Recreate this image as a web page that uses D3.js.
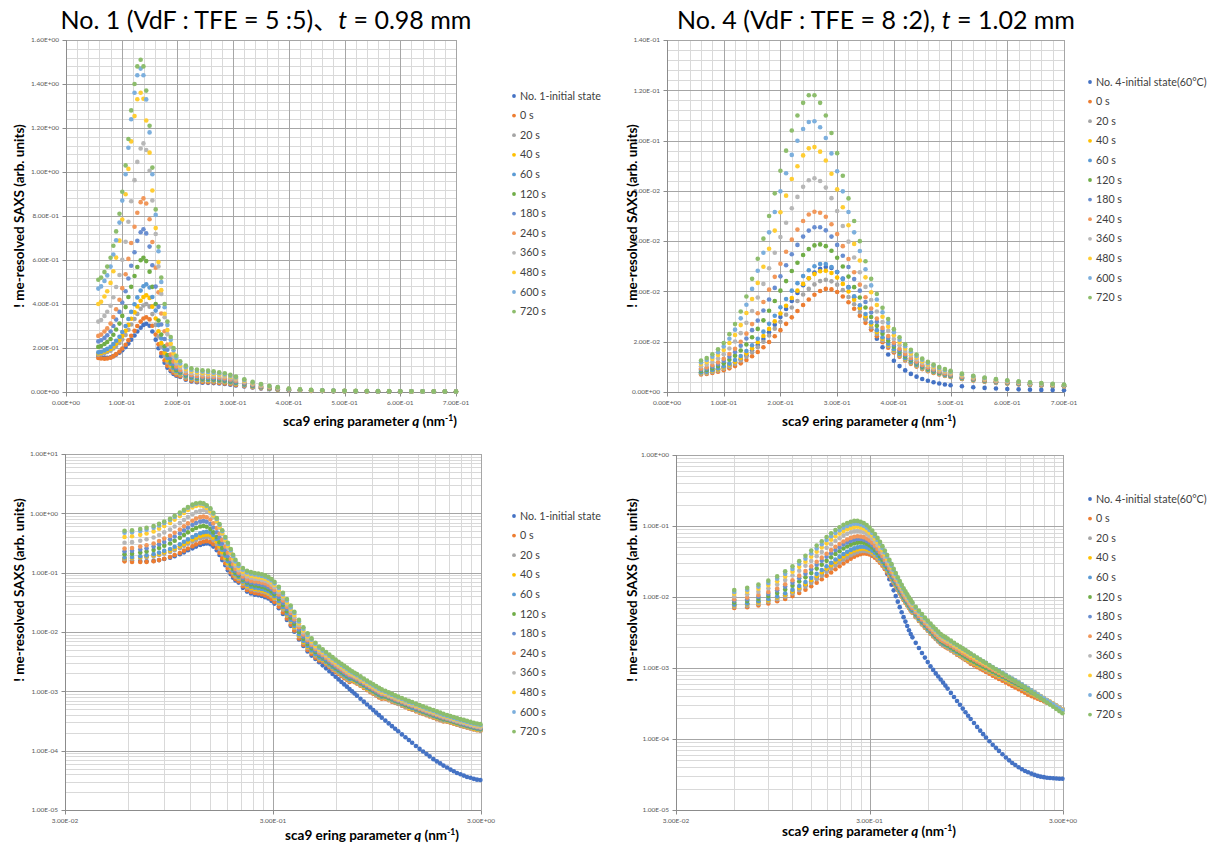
<!DOCTYPE html>
<html>
<head>
<meta charset="utf-8">
<script src="https://cdn.jsdelivr.net/npm/d3@7"></script>
<style>
  body { margin: 0; background: #fff; }
  svg { font-family: Lato, "Noto Sans CJK JP", sans-serif; }
</style>
</head>
<body>
<svg id="chart" width="1213" height="851"></svg>
<script>
// ---- data: No. 1 (q in nm^-1, intensity in arb. units)
var qNo1 = [0.058, 0.063, 0.069, 0.074, 0.080, 0.085, 0.090, 0.096, 0.101, 0.107, 0.112, 0.117, 0.123, 0.128, 0.134, 0.139, 0.144, 0.150, 0.155, 0.161, 0.166, 0.171, 0.177, 0.182, 0.188, 0.193, 0.198,
  0.205, 0.215, 0.225, 0.235, 0.245, 0.255, 0.265, 0.275, 0.285, 0.295, 0.305, 0.32, 0.335, 0.35, 0.365, 0.38, 0.40, 0.42, 0.44, 0.46, 0.48, 0.50,
  0.52, 0.54, 0.56, 0.58, 0.60, 0.62, 0.64, 0.66, 0.68, 0.70, 0.72, 0.74, 0.76, 0.79, 0.82, 0.85, 0.88, 0.91, 0.94, 0.97, 1.00,
  1.04, 1.08, 1.12, 1.16, 1.20, 1.25, 1.30, 1.35, 1.40, 1.46, 1.52, 1.58, 1.64, 1.70, 1.77, 1.84, 1.91, 1.98,
  2.06, 2.14, 2.22, 2.30, 2.39, 2.48, 2.57, 2.67, 2.77, 2.87, 2.98];

var n1Init = [0.165, 0.16, 0.157, 0.156, 0.158, 0.163, 0.17, 0.179, 0.19, 0.204, 0.22, 0.238, 0.257, 0.275, 0.292, 0.305, 0.31, 0.301, 0.275, 0.238, 0.199, 0.163, 0.133, 0.11, 0.094, 0.082, 0.074,
  0.068, 0.0555, 0.048, 0.0445, 0.0425, 0.0417, 0.0404, 0.0387, 0.0366, 0.0335, 0.0301, 0.0252, 0.0202, 0.016, 0.0127, 0.0101, 0.0075, 0.0058, 0.0047, 0.004, 0.0035, 0.0031,
  274e-5, 244e-5, 218e-5, 196e-5, 176e-5, 159e-5, 144e-5, 131e-5, 120e-5, 109e-5, 100e-5, 92e-5, 84.6e-5, 75e-5, 67e-5, 60e-5, 53.7e-5, 48.3e-5, 43.7e-5, 39.7e-5, 36e-5,
  32.1e-5, 28.8e-5, 25.9e-5, 23.4e-5, 21.2e-5, 18.8e-5, 16.8e-5, 15.1e-5, 13.6e-5, 12e-5, 10.7e-5, 9.7e-5, 8.8e-5, 8e-5, 7.2e-5, 6.6e-5, 6.1e-5, 5.6e-5,
  5.2e-5, 4.8e-5, 4.5e-5, 4.2e-5, 4e-5, 3.8e-5, 3.6e-5, 3.5e-5, 3.35e-5, 3.25e-5, 3.2e-5];
var n1S0 = [0.155, 0.152, 0.151, 0.152, 0.156, 0.163, 0.172, 0.184, 0.198, 0.215, 0.235, 0.256, 0.278, 0.30, 0.32, 0.334, 0.34, 0.33, 0.301, 0.261, 0.217, 0.177, 0.144, 0.119, 0.101, 0.088, 0.078,
  0.072, 0.059, 0.051, 0.0475, 0.0455, 0.0446, 0.0432, 0.0414, 0.0391, 0.0359, 0.0322, 0.0268, 0.0214, 0.0169, 0.0133, 0.0106, 0.0078, 0.0061, 0.005, 0.0043, 0.0037, 0.0033,
  317e-5, 285e-5, 257e-5, 234e-5, 213e-5, 196e-5, 181e-5, 167e-5, 156e-5, 144e-5, 150e-5, 142e-5, 135e-5, 124e-5, 114e-5, 105e-5, 97e-5, 91e-5, 85e-5, 79e-5, 75e-5,
  75e-5, 71e-5, 67e-5, 64e-5, 61e-5, 57e-5, 54e-5, 51e-5, 49e-5, 46e-5, 43.7e-5, 41.4e-5, 39.6e-5, 37.7e-5, 35.9e-5, 34e-5, 32.6e-5, 31.1e-5,
  30.8e-5, 29.6e-5, 28.5e-5, 27.3e-5, 26.2e-5, 25.4e-5, 24.5e-5, 23.6e-5, 22.8e-5, 22.1e-5, 21.6e-5];
var n1S20 = [0.17, 0.172, 0.177, 0.182, 0.188, 0.198, 0.209, 0.223, 0.239, 0.259, 0.283, 0.307, 0.332, 0.355, 0.378, 0.393, 0.40, 0.388, 0.354, 0.305, 0.252, 0.204, 0.165, 0.134, 0.113, 0.097, 0.085,
  0.078, 0.0645, 0.0565, 0.0525, 0.0505, 0.0495, 0.048, 0.0464, 0.0438, 0.0402, 0.036, 0.030, 0.024, 0.0189, 0.0148, 0.0117, 0.0085, 0.0066, 0.0054, 0.0046, 0.004, 0.0035,
  330e-5, 296e-5, 268e-5, 243e-5, 222e-5, 204e-5, 188e-5, 174e-5, 162e-5, 150e-5, 155e-5, 146e-5, 138e-5, 127e-5, 117e-5, 108e-5, 100e-5, 94e-5, 87e-5, 82e-5, 77e-5,
  77e-5, 72e-5, 69e-5, 65e-5, 62e-5, 58e-5, 55e-5, 52e-5, 50e-5, 47e-5, 44.5e-5, 42.3e-5, 40.4e-5, 38.5e-5, 36.6e-5, 34.7e-5, 33.2e-5, 31.7e-5,
  31.2e-5, 30e-5, 28.9e-5, 27.7e-5, 26.5e-5, 25.7e-5, 24.8e-5, 23.9e-5, 23.1e-5, 22.4e-5, 21.8e-5];
var n1S40 = [0.175, 0.177, 0.183, 0.189, 0.196, 0.207, 0.22, 0.236, 0.255, 0.278, 0.305, 0.333, 0.362, 0.389, 0.415, 0.432, 0.44, 0.427, 0.388, 0.334, 0.276, 0.222, 0.178, 0.144, 0.121, 0.103, 0.09,
  0.082, 0.068, 0.0595, 0.055, 0.053, 0.0519, 0.0503, 0.0486, 0.0459, 0.0421, 0.0378, 0.0315, 0.0251, 0.0197, 0.0154, 0.0121, 0.0088, 0.0068, 0.0056, 0.0047, 0.0041, 0.0036,
  340e-5, 305e-5, 276e-5, 251e-5, 229e-5, 210e-5, 194e-5, 180e-5, 167e-5, 155e-5, 159e-5, 150e-5, 142e-5, 131e-5, 120e-5, 111e-5, 103e-5, 96e-5, 90e-5, 84e-5, 79e-5,
  79e-5, 74e-5, 71e-5, 67e-5, 64e-5, 60e-5, 57e-5, 53e-5, 51e-5, 48e-5, 46e-5, 43.4e-5, 41.5e-5, 39.5e-5, 37.6e-5, 35.7e-5, 34.1e-5, 32.6e-5,
  31.8e-5, 30.6e-5, 29.4e-5, 28.2e-5, 27e-5, 26.2e-5, 25.3e-5, 24.3e-5, 23.5e-5, 22.8e-5, 22.3e-5];
var n1S60 = [0.18, 0.183, 0.189, 0.196, 0.205, 0.218, 0.233, 0.251, 0.273, 0.30, 0.332, 0.364, 0.399, 0.43, 0.461, 0.481, 0.49, 0.475, 0.432, 0.37, 0.304, 0.243, 0.194, 0.155, 0.129, 0.108, 0.094,
  0.085, 0.071, 0.0625, 0.058, 0.056, 0.0548, 0.053, 0.0513, 0.0485, 0.0445, 0.040, 0.033, 0.0262, 0.0206, 0.016, 0.0127, 0.0092, 0.0071, 0.0058, 0.0049, 0.0042, 0.0037,
  350e-5, 314e-5, 284e-5, 258e-5, 236e-5, 216e-5, 200e-5, 185e-5, 172e-5, 160e-5, 164e-5, 155e-5, 146e-5, 134e-5, 124e-5, 114e-5, 106e-5, 99e-5, 92e-5, 86e-5, 81e-5,
  81e-5, 76e-5, 72e-5, 68e-5, 65e-5, 61e-5, 58e-5, 55e-5, 52e-5, 49e-5, 47e-5, 44.5e-5, 42.5e-5, 40.5e-5, 38.6e-5, 36.6e-5, 35e-5, 33.4e-5,
  32.6e-5, 31.4e-5, 30.2e-5, 28.9e-5, 27.7e-5, 26.9e-5, 25.9e-5, 24.9e-5, 24.1e-5, 23.4e-5, 22.8e-5];
var n1S120 = [0.205, 0.209, 0.218, 0.227, 0.241, 0.26, 0.284, 0.311, 0.346, 0.386, 0.432, 0.478, 0.527, 0.568, 0.599, 0.61, 0.595, 0.547, 0.478, 0.40, 0.325, 0.261, 0.208, 0.168, 0.138, 0.116, 0.10,
  0.09, 0.076, 0.068, 0.0635, 0.061, 0.0597, 0.058, 0.056, 0.0527, 0.0484, 0.0434, 0.036, 0.0285, 0.0224, 0.0175, 0.0138, 0.010, 0.0077, 0.0063, 0.0053, 0.0046, 0.0040,
  370e-5, 333e-5, 301e-5, 273e-5, 249e-5, 229e-5, 212e-5, 196e-5, 182e-5, 169e-5, 169e-5, 160e-5, 151e-5, 139e-5, 128e-5, 118e-5, 109e-5, 102e-5, 95e-5, 89e-5, 84e-5,
  83e-5, 78e-5, 74e-5, 70e-5, 67e-5, 63e-5, 59e-5, 56e-5, 54e-5, 51e-5, 48e-5, 45.6e-5, 43.6e-5, 41.6e-5, 39.5e-5, 37.5e-5, 35.9e-5, 34.2e-5,
  33.4e-5, 32.1e-5, 30.9e-5, 29.6e-5, 28.4e-5, 27.6e-5, 26.6e-5, 25.6e-5, 24.7e-5, 24e-5, 23.4e-5];
var n1S180 = [0.23, 0.235, 0.246, 0.258, 0.275, 0.30, 0.329, 0.364, 0.407, 0.458, 0.516, 0.574, 0.635, 0.687, 0.726, 0.74, 0.721, 0.661, 0.576, 0.479, 0.387, 0.307, 0.241, 0.192, 0.155, 0.128, 0.108,
  0.095, 0.081, 0.072, 0.068, 0.066, 0.0645, 0.0625, 0.061, 0.057, 0.053, 0.047, 0.039, 0.031, 0.0245, 0.0192, 0.0151, 0.011, 0.0084, 0.0068, 0.0057, 0.0049, 0.0042,
  388e-5, 349e-5, 315e-5, 287e-5, 261e-5, 240e-5, 222e-5, 205e-5, 191e-5, 177e-5, 175e-5, 166e-5, 157e-5, 144e-5, 133e-5, 122e-5, 114e-5, 106e-5, 99e-5, 93e-5, 87e-5,
  86e-5, 81e-5, 76e-5, 72e-5, 69e-5, 65e-5, 61e-5, 58e-5, 55e-5, 52e-5, 49.6e-5, 47e-5, 45e-5, 42.8e-5, 40.7e-5, 38.6e-5, 37e-5, 35.3e-5,
  34.2e-5, 32.9e-5, 31.6e-5, 30.4e-5, 29.1e-5, 28.2e-5, 27.2e-5, 26.2e-5, 25.3e-5, 24.5e-5, 23.9e-5];
var n1S240 = [0.255, 0.261, 0.275, 0.289, 0.311, 0.341, 0.376, 0.419, 0.472, 0.535, 0.605, 0.677, 0.751, 0.815, 0.863, 0.88, 0.857, 0.785, 0.682, 0.565, 0.453, 0.357, 0.276, 0.216, 0.17, 0.139, 0.116,
  0.10, 0.086, 0.077, 0.073, 0.071, 0.070, 0.068, 0.066, 0.062, 0.057, 0.051, 0.043, 0.034, 0.0267, 0.0209, 0.0164, 0.012, 0.0091, 0.0073, 0.0061, 0.0052, 0.0045,
  411e-5, 369e-5, 334e-5, 303e-5, 277e-5, 254e-5, 235e-5, 217e-5, 202e-5, 188e-5, 183e-5, 173e-5, 164e-5, 150e-5, 139e-5, 128e-5, 118e-5, 111e-5, 103e-5, 97e-5, 91e-5,
  88e-5, 83e-5, 79e-5, 74e-5, 71e-5, 67e-5, 63e-5, 60e-5, 57e-5, 54e-5, 51e-5, 48.4e-5, 46.3e-5, 44.1e-5, 42e-5, 39.8e-5, 38.1e-5, 36.3e-5,
  35e-5, 33.7e-5, 32.4e-5, 31.1e-5, 29.8e-5, 28.9e-5, 27.8e-5, 26.8e-5, 25.9e-5, 25.1e-5, 24.5e-5];
var n1S360 = [0.32, 0.327, 0.346, 0.365, 0.392, 0.431, 0.477, 0.532, 0.601, 0.683, 0.774, 0.867, 0.963, 1.046, 1.107, 1.13, 1.10, 1.006, 0.871, 0.718, 0.571, 0.446, 0.34, 0.263, 0.205, 0.161, 0.13,
  0.11, 0.095, 0.086, 0.082, 0.079, 0.078, 0.075, 0.073, 0.069, 0.063, 0.057, 0.047, 0.037, 0.029, 0.0227, 0.0178, 0.013, 0.0098, 0.0078, 0.0065, 0.0055, 0.0048,
  434e-5, 390e-5, 353e-5, 320e-5, 292e-5, 269e-5, 248e-5, 230e-5, 213e-5, 198e-5, 191e-5, 180e-5, 171e-5, 157e-5, 144e-5, 133e-5, 123e-5, 116e-5, 108e-5, 101e-5, 94.5e-5,
  91e-5, 85e-5, 81e-5, 77e-5, 73e-5, 69e-5, 65e-5, 61e-5, 59e-5, 55e-5, 53e-5, 50e-5, 47.6e-5, 45.4e-5, 43.2e-5, 41e-5, 39.2e-5, 37.4e-5,
  35.6e-5, 34.3e-5, 32.9e-5, 31.6e-5, 30.3e-5, 29.4e-5, 28.3e-5, 27.2e-5, 26.3e-5, 25.5e-5, 24.9e-5];
var n1S480 = [0.40, 0.41, 0.434, 0.458, 0.496, 0.549, 0.611, 0.688, 0.784, 0.899, 1.014, 1.139, 1.254, 1.331, 1.36, 1.333, 1.234, 1.088, 0.916, 0.745, 0.591, 0.463, 0.356, 0.282, 0.219, 0.175, 0.142,
  0.12, 0.104, 0.094, 0.089, 0.086, 0.084, 0.082, 0.079, 0.075, 0.069, 0.062, 0.051, 0.040, 0.0315, 0.0245, 0.0193, 0.014, 0.0106, 0.0084, 0.0069, 0.0058, 0.0051,
  457e-5, 411e-5, 371e-5, 337e-5, 308e-5, 283e-5, 261e-5, 242e-5, 225e-5, 209e-5, 198e-5, 187e-5, 177e-5, 163e-5, 150e-5, 138e-5, 128e-5, 120e-5, 112e-5, 105e-5, 98e-5,
  94e-5, 89e-5, 84e-5, 80e-5, 76e-5, 71e-5, 68e-5, 64e-5, 61e-5, 57e-5, 55e-5, 52e-5, 49.5e-5, 47e-5, 45e-5, 42.5e-5, 40.7e-5, 38.9e-5,
  37.2e-5, 35.8e-5, 34.4e-5, 33e-5, 31.6e-5, 30.7e-5, 29.6e-5, 28.5e-5, 27.5e-5, 26.7e-5, 26e-5];
var n1S600 = [0.47, 0.48, 0.505, 0.53, 0.57, 0.625, 0.69, 0.77, 0.87, 0.99, 1.11, 1.24, 1.36, 1.44, 1.47, 1.44, 1.33, 1.18, 0.99, 0.805, 0.64, 0.50, 0.385, 0.305, 0.237, 0.19, 0.154,
  0.13, 0.112, 0.101, 0.096, 0.093, 0.091, 0.088, 0.085, 0.080, 0.074, 0.066, 0.055, 0.043, 0.034, 0.026, 0.021, 0.015, 0.0113, 0.0089, 0.0074, 0.0063, 0.0054,
  485e-5, 436e-5, 394e-5, 358e-5, 327e-5, 300e-5, 277e-5, 257e-5, 238e-5, 221e-5, 208e-5, 197e-5, 186e-5, 171e-5, 158e-5, 145e-5, 135e-5, 126e-5, 117e-5, 110e-5, 103e-5,
  98e-5, 92e-5, 87e-5, 83e-5, 79e-5, 74e-5, 70e-5, 66e-5, 63e-5, 60e-5, 57e-5, 54e-5, 51e-5, 49e-5, 46.6e-5, 44e-5, 42e-5, 40e-5,
  38.4e-5, 37e-5, 35.5e-5, 34e-5, 32.6e-5, 31.7e-5, 30.5e-5, 29.4e-5, 28.4e-5, 27.6e-5, 26.9e-5];
var n1S720 = [0.51, 0.52, 0.545, 0.57, 0.61, 0.665, 0.73, 0.81, 0.91, 1.03, 1.15, 1.28, 1.40, 1.48, 1.51, 1.48, 1.37, 1.21, 1.02, 0.83, 0.66, 0.52, 0.40, 0.32, 0.25, 0.20, 0.165,
  0.14, 0.12, 0.108, 0.102, 0.099, 0.097, 0.094, 0.090, 0.085, 0.078, 0.070, 0.058, 0.046, 0.036, 0.028, 0.022, 0.016, 0.012, 0.0095, 0.0078, 0.0066, 0.0057,
  511e-5, 459e-5, 415e-5, 377e-5, 344e-5, 316e-5, 292e-5, 270e-5, 251e-5, 233e-5, 218e-5, 206e-5, 195e-5, 179e-5, 165e-5, 152e-5, 141e-5, 132e-5, 123e-5, 115e-5, 108e-5,
  102e-5, 96e-5, 91e-5, 86e-5, 82e-5, 77e-5, 73e-5, 69e-5, 66e-5, 62e-5, 59e-5, 56e-5, 53.5e-5, 51e-5, 48.5e-5, 46e-5, 44e-5, 42e-5,
  40e-5, 38.5e-5, 37e-5, 35.5e-5, 34e-5, 33e-5, 31.8e-5, 30.6e-5, 29.6e-5, 28.7e-5, 28e-5];

// ---- data: No. 4
var qNo4 = [0.06, 0.07, 0.08, 0.09, 0.10, 0.11, 0.12, 0.13, 0.14, 0.15, 0.16, 0.17, 0.18, 0.19, 0.20, 0.21, 0.22, 0.23, 0.24, 0.25, 0.26, 0.27, 0.28, 0.29, 0.30,
  0.31, 0.32, 0.33, 0.34, 0.35, 0.36, 0.37, 0.38, 0.39, 0.40, 0.41, 0.42, 0.43, 0.44, 0.45, 0.46, 0.47, 0.48, 0.49, 0.50,
  0.52, 0.54, 0.56, 0.58, 0.60, 0.62, 0.64, 0.66, 0.68, 0.70, 0.72, 0.74, 0.76, 0.79, 0.82, 0.85, 0.88, 0.91, 0.94, 0.97, 1.00,
  1.04, 1.08, 1.12, 1.16, 1.20, 1.25, 1.30, 1.35, 1.40, 1.46, 1.52, 1.58, 1.64, 1.70, 1.77, 1.84, 1.91, 1.98,
  2.06, 2.14, 2.22, 2.30, 2.39, 2.48, 2.57, 2.67, 2.77, 2.87, 2.98];

var n4Init = [0.0078, 0.008, 0.0085, 0.009, 0.0097, 0.0106, 0.0117, 0.013, 0.0146, 0.0165, 0.0187, 0.0211, 0.0238, 0.0267, 0.0298, 0.033, 0.0362, 0.0394, 0.0425, 0.0452, 0.0475, 0.049, 0.0497, 0.0493, 0.0477,
  0.0451, 0.0417, 0.0377, 0.0334, 0.0291, 0.025, 0.0212, 0.0178, 0.0149, 0.0124, 0.0103, 0.0086, 0.0072, 0.0061, 0.0052, 0.0045, 0.0039, 0.0034, 0.003, 0.0027,
  226e-5, 191e-5, 163e-5, 140e-5, 121e-5, 106e-5, 94e-5, 84e-5, 76e-5, 69e-5, 62.3e-5, 56.5e-5, 51.3e-5, 44.6e-5, 39.1e-5, 34.3e-5, 30.3e-5, 26.8e-5, 23.8e-5, 21.3e-5, 19.1e-5,
  16.8e-5, 14.8e-5, 13.1e-5, 11.7e-5, 10.5e-5, 9.3e-5, 8.3e-5, 7.5e-5, 6.8e-5, 6.1e-5, 5.5e-5, 5e-5, 4.6e-5, 4.3e-5, 4e-5, 3.75e-5, 3.55e-5, 3.4e-5,
  3.25e-5, 3.12e-5, 3.02e-5, 2.95e-5, 2.9e-5, 2.85e-5, 2.82e-5, 2.8e-5, 2.78e-5, 2.76e-5, 2.75e-5];
var n4S0 = [0.007, 0.0072, 0.0076, 0.0081, 0.0087, 0.0094, 0.0103, 0.0114, 0.0127, 0.0142, 0.0159, 0.0178, 0.0199, 0.0222, 0.0246, 0.0271, 0.0297, 0.0322, 0.0346, 0.0368, 0.0387, 0.0402, 0.041, 0.0408, 0.0398,
  0.038, 0.0357, 0.0331, 0.0303, 0.0275, 0.0248, 0.0222, 0.0198, 0.0176, 0.0157, 0.014, 0.0125, 0.0112, 0.0101, 0.0091, 0.0083, 0.0076, 0.007, 0.0064, 0.006,
  518e-5, 459e-5, 411e-5, 369e-5, 334e-5, 304e-5, 278e-5, 256e-5, 237e-5, 219e-5, 207e-5, 197e-5, 189e-5, 176e-5, 165e-5, 154e-5, 146e-5, 137e-5, 130e-5, 123e-5, 115e-5,
  109e-5, 103e-5, 98e-5, 93e-5, 88e-5, 83e-5, 78e-5, 74e-5, 70e-5, 66e-5, 62.6e-5, 59.2e-5, 56e-5, 53.2e-5, 50.1e-5, 47.3e-5, 44.8e-5, 42.1e-5,
  40.2e-5, 38.5e-5, 37e-5, 35.4e-5, 33.9e-5, 32.4e-5, 31.1e-5, 29.6e-5, 28.2e-5, 27e-5, 25.8e-5];
var n4S20 = [0.0073, 0.0075, 0.008, 0.0086, 0.0093, 0.0101, 0.0112, 0.0125, 0.014, 0.0158, 0.0178, 0.02, 0.0225, 0.0252, 0.0279, 0.0307, 0.0336, 0.0362, 0.0388, 0.041, 0.0428, 0.0441, 0.0446, 0.044, 0.0427,
  0.0405, 0.0378, 0.0349, 0.0318, 0.0288, 0.0258, 0.0231, 0.0205, 0.0182, 0.0162, 0.0144, 0.0128, 0.0115, 0.0103, 0.0093, 0.0085, 0.0078, 0.0072, 0.0065, 0.0061,
  529e-5, 468e-5, 418e-5, 374e-5, 339e-5, 308e-5, 282e-5, 259e-5, 238e-5, 221e-5, 211e-5, 202e-5, 193e-5, 180e-5, 168e-5, 158e-5, 149e-5, 140e-5, 133e-5, 126e-5, 120e-5,
  114e-5, 108e-5, 103e-5, 98e-5, 93e-5, 88e-5, 83e-5, 79e-5, 75e-5, 71e-5, 67e-5, 63.4e-5, 60.2e-5, 57.3e-5, 54.1e-5, 51.1e-5, 48.5e-5, 45.6e-5,
  43.1e-5, 40.9e-5, 38.9e-5, 37e-5, 35e-5, 33.2e-5, 31.6e-5, 30e-5, 28.4e-5, 27e-5, 25.5e-5];
var n4S40 = [0.0076, 0.0079, 0.0084, 0.009, 0.0098, 0.0108, 0.012, 0.0135, 0.0153, 0.0174, 0.0198, 0.0223, 0.0251, 0.0281, 0.0312, 0.0343, 0.0374, 0.0403, 0.043, 0.0452, 0.0469, 0.048, 0.0482, 0.0473, 0.0455,
  0.043, 0.04, 0.0367, 0.0334, 0.03, 0.0269, 0.0239, 0.0212, 0.0188, 0.0167, 0.0148, 0.0132, 0.0118, 0.0106, 0.0095, 0.0087, 0.0079, 0.0073, 0.0067, 0.0062,
  540e-5, 479e-5, 428e-5, 385e-5, 348e-5, 317e-5, 290e-5, 267e-5, 246e-5, 228e-5, 218e-5, 208e-5, 199e-5, 186e-5, 174e-5, 163e-5, 154e-5, 145e-5, 137e-5, 129e-5, 123e-5,
  117e-5, 110e-5, 105e-5, 100e-5, 96e-5, 90e-5, 85e-5, 81e-5, 77e-5, 73e-5, 68.5e-5, 64.9e-5, 61.5e-5, 58.6e-5, 55.3e-5, 52.3e-5, 49.6e-5, 46.6e-5,
  43.9e-5, 41.7e-5, 39.6e-5, 37.6e-5, 35.6e-5, 33.7e-5, 32.1e-5, 30.3e-5, 28.7e-5, 27.2e-5, 25.8e-5];
var n4S60 = [0.0078, 0.0081, 0.0087, 0.0094, 0.0102, 0.0113, 0.0127, 0.0143, 0.0163, 0.0186, 0.0212, 0.024, 0.0271, 0.0303, 0.0337, 0.037, 0.0403, 0.0433, 0.0461, 0.0484, 0.05, 0.0509, 0.0509, 0.0497, 0.0477,
  0.0449, 0.0416, 0.0381, 0.0345, 0.031, 0.0277, 0.0246, 0.0218, 0.0192, 0.017, 0.0151, 0.0134, 0.012, 0.0108, 0.0097, 0.0088, 0.0081, 0.0074, 0.0068, 0.0063,
  548e-5, 485e-5, 434e-5, 390e-5, 353e-5, 321e-5, 294e-5, 270e-5, 250e-5, 231e-5, 220e-5, 211e-5, 202e-5, 190e-5, 178e-5, 167e-5, 159e-5, 150e-5, 142e-5, 135e-5, 128e-5,
  121e-5, 115e-5, 109e-5, 104e-5, 99e-5, 93e-5, 88e-5, 84e-5, 80e-5, 75e-5, 71e-5, 67.1e-5, 63.6e-5, 60.6e-5, 57.1e-5, 54e-5, 51.2e-5, 48.1e-5,
  45.3e-5, 42.9e-5, 40.7e-5, 38.6e-5, 36.5e-5, 34.5e-5, 32.8e-5, 31e-5, 29.2e-5, 27.8e-5, 26.2e-5];
var n4S120 = [0.0084, 0.0088, 0.0094, 0.0103, 0.0114, 0.0128, 0.0144, 0.0165, 0.0189, 0.0218, 0.0251, 0.0285, 0.0323, 0.0362, 0.0403, 0.0441, 0.0481, 0.0514, 0.0545, 0.0569, 0.0583, 0.0587, 0.058, 0.0562, 0.0534,
  0.0499, 0.0459, 0.0417, 0.0376, 0.0336, 0.0298, 0.0263, 0.0232, 0.0204, 0.018, 0.0159, 0.0141, 0.0126, 0.0113, 0.0101, 0.0092, 0.0084, 0.0077, 0.0071, 0.0066,
  573e-5, 508e-5, 453e-5, 407e-5, 368e-5, 335e-5, 306e-5, 281e-5, 259e-5, 240e-5, 229e-5, 219e-5, 209e-5, 196e-5, 184e-5, 173e-5, 163e-5, 154e-5, 146e-5, 138e-5, 131e-5,
  124e-5, 117e-5, 112e-5, 106e-5, 101e-5, 95e-5, 90e-5, 86e-5, 81e-5, 77e-5, 72.5e-5, 68.6e-5, 65e-5, 61.8e-5, 58.3e-5, 55.1e-5, 52.2e-5, 49.1e-5,
  46.2e-5, 43.6e-5, 41.3e-5, 39e-5, 36.9e-5, 34.8e-5, 33e-5, 31.1e-5, 29.3e-5, 27.8e-5, 26.2e-5];
var n4S180 = [0.0089, 0.0093, 0.0101, 0.0111, 0.0124, 0.014, 0.0159, 0.0184, 0.0213, 0.0246, 0.0284, 0.0324, 0.0368, 0.0414, 0.046, 0.0504, 0.0548, 0.0585, 0.0618, 0.0642, 0.0655, 0.0655, 0.0643, 0.0618, 0.0585,
  0.0542, 0.0497, 0.0449, 0.0403, 0.0358, 0.0316, 0.0279, 0.0244, 0.0215, 0.0188, 0.0166, 0.0147, 0.0131, 0.0117, 0.0105, 0.0096, 0.0087, 0.008, 0.0073, 0.0068,
  591e-5, 523e-5, 467e-5, 419e-5, 380e-5, 345e-5, 316e-5, 290e-5, 269e-5, 249e-5, 238e-5, 228e-5, 219e-5, 205e-5, 193e-5, 181e-5, 172e-5, 162e-5, 154e-5, 146e-5, 139e-5,
  132e-5, 124e-5, 118e-5, 112e-5, 107e-5, 100e-5, 95e-5, 90e-5, 85e-5, 80e-5, 75.4e-5, 71.1e-5, 67.3e-5, 64e-5, 60.3e-5, 56.9e-5, 53.8e-5, 50.6e-5,
  47.4e-5, 44.7e-5, 42.1e-5, 39.7e-5, 37.4e-5, 35.2e-5, 33.3e-5, 31.4e-5, 29.5e-5, 27.9e-5, 26.2e-5];
var n4S240 = [0.0093, 0.0098, 0.0107, 0.0118, 0.0132, 0.0151, 0.0172, 0.02, 0.0232, 0.027, 0.0313, 0.0358, 0.0407, 0.0458, 0.051, 0.0558, 0.0606, 0.0646, 0.068, 0.0706, 0.0717, 0.0713, 0.0697, 0.0667, 0.0628,
  0.058, 0.0529, 0.0476, 0.0427, 0.0377, 0.0332, 0.0292, 0.0255, 0.0223, 0.0196, 0.0172, 0.0152, 0.0135, 0.0121, 0.0108, 0.0098, 0.009, 0.0082, 0.0075, 0.007,
  611e-5, 540e-5, 481e-5, 431e-5, 389e-5, 353e-5, 322e-5, 295e-5, 272e-5, 251e-5, 240e-5, 230e-5, 220e-5, 207e-5, 194e-5, 182e-5, 173e-5, 163e-5, 155e-5, 147e-5, 139e-5,
  132e-5, 124e-5, 118e-5, 112e-5, 107e-5, 101e-5, 95e-5, 90e-5, 85e-5, 80e-5, 75.9e-5, 71.7e-5, 67.9e-5, 64.5e-5, 60.8e-5, 57.4e-5, 54.4e-5, 51.1e-5,
  47.8e-5, 45e-5, 42.4e-5, 40e-5, 37.6e-5, 35.4e-5, 33.4e-5, 31.4e-5, 29.5e-5, 27.9e-5, 26.2e-5];
var n4S360 = [0.0102, 0.0109, 0.0119, 0.0133, 0.015, 0.0173, 0.0201, 0.0234, 0.0275, 0.0322, 0.0376, 0.043, 0.0492, 0.0554, 0.0616, 0.0673, 0.0731, 0.0776, 0.0816, 0.0842, 0.085, 0.0839, 0.0813, 0.0771, 0.072,
  0.066, 0.0598, 0.0535, 0.0476, 0.0418, 0.0366, 0.032, 0.0278, 0.0243, 0.0211, 0.0186, 0.0163, 0.0145, 0.0129, 0.0116, 0.0105, 0.0095, 0.0087, 0.008, 0.0074,
  646e-5, 572e-5, 511e-5, 458e-5, 415e-5, 377e-5, 345e-5, 317e-5, 292e-5, 270e-5, 257e-5, 246e-5, 236e-5, 221e-5, 207e-5, 195e-5, 185e-5, 174e-5, 166e-5, 157e-5, 149e-5,
  141e-5, 132e-5, 125e-5, 119e-5, 113e-5, 106e-5, 100e-5, 94e-5, 89e-5, 84e-5, 78.7e-5, 74.1e-5, 70e-5, 66.4e-5, 62.4e-5, 58.7e-5, 55.4e-5, 52.1e-5,
  48.6e-5, 45.6e-5, 42.9e-5, 40.3e-5, 37.8e-5, 35.5e-5, 33.5e-5, 31.4e-5, 29.4e-5, 27.7e-5, 26e-5];
var n4S480 = [0.0111, 0.0119, 0.0131, 0.0147, 0.0167, 0.0195, 0.0227, 0.0266, 0.0314, 0.037, 0.0434, 0.0498, 0.057, 0.0642, 0.0715, 0.0781, 0.0847, 0.0898, 0.0941, 0.0969, 0.0974, 0.0956, 0.0921, 0.0868, 0.0806,
  0.0735, 0.0663, 0.0589, 0.0523, 0.0456, 0.0397, 0.0346, 0.0299, 0.026, 0.0226, 0.0198, 0.0173, 0.0153, 0.0137, 0.0122, 0.011, 0.01, 0.0091, 0.0084, 0.0078,
  680e-5, 600e-5, 535e-5, 479e-5, 433e-5, 393e-5, 358e-5, 329e-5, 303e-5, 279e-5, 266e-5, 254e-5, 243e-5, 227e-5, 212e-5, 199e-5, 188e-5, 177e-5, 168e-5, 159e-5, 150e-5,
  142e-5, 133e-5, 126e-5, 120e-5, 113e-5, 106e-5, 100e-5, 95e-5, 89e-5, 84e-5, 79e-5, 74.3e-5, 70.2e-5, 66.5e-5, 62.4e-5, 58.7e-5, 55.4e-5, 52.1e-5,
  48.6e-5, 45.6e-5, 42.8e-5, 40.2e-5, 37.7e-5, 35.3e-5, 33.3e-5, 31.2e-5, 29.2e-5, 27.5e-5, 25.8e-5];
var n4S600 = [0.0118, 0.0127, 0.014, 0.0158, 0.0181, 0.0212, 0.0248, 0.0293, 0.0347, 0.041, 0.0482, 0.0554, 0.0635, 0.0716, 0.0798, 0.087, 0.0943, 0.0999, 0.1046, 0.1074, 0.1077, 0.1053, 0.101, 0.0949, 0.0878,
  0.0798, 0.0716, 0.0635, 0.0561, 0.0488, 0.0424, 0.0368, 0.0317, 0.0275, 0.0238, 0.0208, 0.0182, 0.0161, 0.0143, 0.0128, 0.0115, 0.0105, 0.0095, 0.0087, 0.0081,
  705e-5, 623e-5, 555e-5, 497e-5, 449e-5, 408e-5, 372e-5, 341e-5, 314e-5, 290e-5, 276e-5, 264e-5, 253e-5, 237e-5, 222e-5, 209e-5, 197e-5, 186e-5, 176e-5, 167e-5, 158e-5,
  149e-5, 139e-5, 132e-5, 124e-5, 118e-5, 110e-5, 103e-5, 97e-5, 92e-5, 86e-5, 80e-5, 75e-5, 71e-5, 67e-5, 62.8e-5, 58.9e-5, 55.4e-5, 52.1e-5,
  48.5e-5, 45.4e-5, 42.6e-5, 39.9e-5, 37.3e-5, 35e-5, 32.9e-5, 30.8e-5, 28.7e-5, 27e-5, 25.3e-5];
var n4S720 = [0.0125, 0.0135, 0.015, 0.017, 0.0195, 0.023, 0.027, 0.032, 0.038, 0.045, 0.053, 0.061, 0.070, 0.079, 0.088, 0.096, 0.104, 0.110, 0.115, 0.118, 0.118, 0.115, 0.110, 0.103, 0.095,
  0.086, 0.077, 0.068, 0.060, 0.052, 0.045, 0.039, 0.0335, 0.029, 0.025, 0.0218, 0.019, 0.0168, 0.0149, 0.0133, 0.012, 0.0109, 0.0099, 0.0091, 0.0084,
  730e-5, 645e-5, 575e-5, 515e-5, 465e-5, 422e-5, 385e-5, 353e-5, 325e-5, 300e-5, 285e-5, 272e-5, 260e-5, 243e-5, 227e-5, 213e-5, 201e-5, 189e-5, 179e-5, 169e-5, 160e-5,
  150e-5, 140e-5, 132e-5, 124e-5, 117e-5, 109e-5, 102e-5, 96e-5, 90e-5, 84e-5, 78.5e-5, 73.5e-5, 69e-5, 65e-5, 60.7e-5, 56.8e-5, 53.3e-5, 50.1e-5,
  46.4e-5, 43.2e-5, 40.3e-5, 37.6e-5, 35e-5, 32.6e-5, 30.5e-5, 28.4e-5, 26.4e-5, 24.7e-5, 23e-5];

var namesNo1 = ["No. 1-initial state", "0 s", "20 s", "40 s", "60 s", "120 s", "180 s", "240 s", "360 s", "480 s", "600 s", "720 s"];
var namesNo4 = ["No. 4-initial state(60°C)", "0 s", "20 s", "40 s", "60 s", "120 s", "180 s", "240 s", "360 s", "480 s", "600 s", "720 s"];

var linTicksX = [0, 0.1, 0.2, 0.3, 0.4, 0.5, 0.6, 0.7];
var linTicksY1 = [0, 0.2, 0.4, 0.6, 0.8, 1.0, 1.2, 1.4, 1.6];
var linTicksY4 = [0, 0.02, 0.04, 0.06, 0.08, 0.10, 0.12, 0.14];
var logTicksX = [0.03, 0.3, 3];
var logTicksY1 = [1e-5, 1e-4, 1e-3, 1e-2, 1e-1, 1, 10];
var logTicksY4 = [1e-5, 1e-4, 1e-3, 1e-2, 1e-1, 1];

var no1Series = [n1Init, n1S0, n1S20, n1S40, n1S60, n1S120, n1S180, n1S240, n1S360, n1S480, n1S600, n1S720];
var no4Series = [n4Init, n4S0, n4S20, n4S40, n4S60, n4S120, n4S180, n4S240, n4S360, n4S480, n4S600, n4S720];

// Excel-like palette, series 7-12 a little lighter
var colors = ["#4472C4", "#ED7D31", "#A5A5A5", "#FFC000", "#5B9BD5", "#70AD47",
              "#698ED0", "#F1975A", "#B7B7B7", "#FFCD33", "#7CAFDD", "#8DBD6C"];

var svg = d3.select("#chart");

function fmtE(v) {
    var parts = v.toExponential(2).split("e");
    var n = +parts[1];
    return parts[0] + "E" + (n < 0 ? "-" : "+") + String(Math.abs(n)).padStart(2, "0");
}

function minorTicks(ticks, log) {
    var out = [];
    for (var i = 0; i < ticks.length - 1; i++) {
        if (log) {
            for (var k = 2; k <= 9; k++) out.push(ticks[i] * k);
        } else {
            for (var j = 1; j < 5; j++) out.push(ticks[i] + (ticks[i + 1] - ticks[i]) * j / 5);
        }
    }
    return out;
}

function crisp(v) { return Math.round(v) + 0.5; }

function drawPanel(p) {
    var g = svg.append("g");
    var x = (p.log ? d3.scaleLog() : d3.scaleLinear()).domain(p.xDom).range([p.l, p.r]);
    var y = (p.log ? d3.scaleLog() : d3.scaleLinear()).domain(p.yDom).range([p.b, p.t]);

    // grid
    var grid = g.append("g");
    grid.selectAll(".mx").data(minorTicks(p.xt, p.log)).enter().append("line")
        .attr("x1", d => crisp(x(d))).attr("x2", d => crisp(x(d)))
        .attr("y1", p.t).attr("y2", p.b)
        .attr("stroke", "#D9D9D9").attr("stroke-width", 1);
    grid.selectAll(".my").data(minorTicks(p.yt, p.log)).enter().append("line")
        .attr("y1", d => crisp(y(d))).attr("y2", d => crisp(y(d)))
        .attr("x1", p.l).attr("x2", p.r)
        .attr("stroke", "#D9D9D9").attr("stroke-width", 1);
    grid.selectAll(".Mx").data(p.xt).enter().append("line")
        .attr("x1", d => crisp(x(d))).attr("x2", d => crisp(x(d)))
        .attr("y1", p.t).attr("y2", p.b)
        .attr("stroke", "#A6A6A6").attr("stroke-width", 1);
    grid.selectAll(".My").data(p.yt).enter().append("line")
        .attr("y1", d => crisp(y(d))).attr("y2", d => crisp(y(d)))
        .attr("x1", p.l).attr("x2", p.r)
        .attr("stroke", "#A6A6A6").attr("stroke-width", 1);

    // axis lines + ticks
    var ax = g.append("g").attr("stroke", "#8C8C8C").attr("stroke-width", 1);
    ax.append("line").attr("x1", crisp(p.l)).attr("x2", crisp(p.l)).attr("y1", p.t).attr("y2", p.b + 0.5);
    ax.append("line").attr("x1", p.l).attr("x2", p.r + 0.5).attr("y1", crisp(p.b)).attr("y2", crisp(p.b));
    ax.selectAll(".tx").data(p.xt).enter().append("line")
        .attr("x1", d => crisp(x(d))).attr("x2", d => crisp(x(d)))
        .attr("y1", crisp(p.b)).attr("y2", crisp(p.b) + 4);
    ax.selectAll(".ty").data(p.yt).enter().append("line")
        .attr("y1", d => crisp(y(d))).attr("y2", d => crisp(y(d)))
        .attr("x1", crisp(p.l) - 4).attr("x2", crisp(p.l));

    // tick labels
    g.selectAll(".lx").data(p.xt).enter().append("text")
        .attr("x", d => x(d)).attr("y", p.b + 13)
        .attr("text-anchor", "middle").attr("font-size", 6.5).attr("fill", "#595959")
        .text(fmtE);
    g.selectAll(".ly").data(p.yt).enter().append("text")
        .attr("x", p.l - 7).attr("y", d => y(d) + 2.3)
        .attr("text-anchor", "end").attr("font-size", 6.5).attr("fill", "#595959")
        .text(fmtE);

    // markers
    p.series.forEach(function (vals, s) {
        var pts = [];
        var n = Math.min(vals.length, p.q.length);
        for (var i = 0; i < n; i++) {
            if (p.q[i] >= p.xDom[0] && p.q[i] <= p.xDom[1] + 1e-9 && vals[i] <= p.yDom[1]) pts.push([p.q[i], vals[i]]);
        }
        g.append("g").selectAll("circle").data(pts).enter().append("circle")
            .attr("cx", d => x(d[0])).attr("cy", d => y(d[1]))
            .attr("r", 2.3).attr("fill", colors[s]);
    });

    // legend
    var lg = g.append("g").attr("transform", "translate(" + p.legX + "," + p.legY + ")");
    p.names.forEach(function (name, i) {
        lg.append("circle").attr("cx", 0).attr("cy", i * 19.6).attr("r", 1.9).attr("fill", colors[i]);
        lg.append("text").attr("x", 6).attr("y", i * 19.6 + 3.5)
            .attr("font-size", 10.7).attr("fill", "#404040").text(name);
    });

    // axis titles
    g.append("text")
        .attr("transform", "translate(" + p.yTitleX + "," + p.yTitleY + ") rotate(-90)")
        .attr("text-anchor", "middle").attr("font-size", 13.5).attr("font-weight", "bold")
        .attr("dy", "0.35em").attr("fill", "#000")
        .text("! me-resolved SAXS (arb. units)");
    var xt = g.append("text")
        .attr("x", p.xTitleX).attr("y", p.xTitleY)
        .attr("text-anchor", "middle").attr("font-size", 13.5).attr("font-weight", "bold").attr("fill", "#000");
    xt.append("tspan").text("sca9 ering parameter ");
    xt.append("tspan").attr("font-style", "italic").text("q");
    xt.append("tspan").text(" (nm");
    xt.append("tspan").attr("font-size", 8.5).attr("dy", -5).text("-1");
    xt.append("tspan").attr("dy", 5).text(")");
}

drawPanel({ q: qNo1, series: no1Series, names: namesNo1, log: false,
    l: 66, r: 456, t: 40, b: 392, xDom: [0, 0.7], yDom: [0, 1.6], xt: linTicksX, yt: linTicksY1,
    legX: 514, legY: 96, yTitleX: 19, yTitleY: 216, xTitleX: 370, xTitleY: 426 });
drawPanel({ q: qNo4, series: no4Series, names: namesNo4, log: false,
    l: 667, r: 1064, t: 40, b: 392, xDom: [0, 0.7], yDom: [0, 0.14], xt: linTicksX, yt: linTicksY4,
    legX: 1090, legY: 82, yTitleX: 632, yTitleY: 216, xTitleX: 869, xTitleY: 426 });
drawPanel({ q: qNo1, series: no1Series, names: namesNo1, log: true,
    l: 65, r: 481, t: 454, b: 810, xDom: [0.03, 3], yDom: [1e-5, 10], xt: logTicksX, yt: logTicksY1,
    legX: 514, legY: 516, yTitleX: 19, yTitleY: 590, xTitleX: 372, xTitleY: 840 });
drawPanel({ q: qNo4, series: no4Series, names: namesNo4, log: true,
    l: 676, r: 1063, t: 455, b: 810, xDom: [0.03, 3], yDom: [1e-5, 1], xt: logTicksX, yt: logTicksY4,
    legX: 1090, legY: 499, yTitleX: 632, yTitleY: 590, xTitleX: 869, xTitleY: 836 });

// chart titles (one text element each, italic t as a tspan)
function title(cx, txt1, txt2) {
    var t = svg.append("text").attr("x", cx).attr("y", 29)
        .attr("text-anchor", "middle").attr("font-size", 25).attr("fill", "#000");
    t.append("tspan").text(txt1);
    t.append("tspan").attr("font-style", "italic").text("t");
    t.append("tspan").text(txt2);
}
title(266, "No. 1 (VdF : TFE = 5 :5)、", " = 0.98 mm");
title(876, "No. 4 (VdF : TFE = 8 :2), ", " = 1.02 mm");
</script>
</body>
</html>
